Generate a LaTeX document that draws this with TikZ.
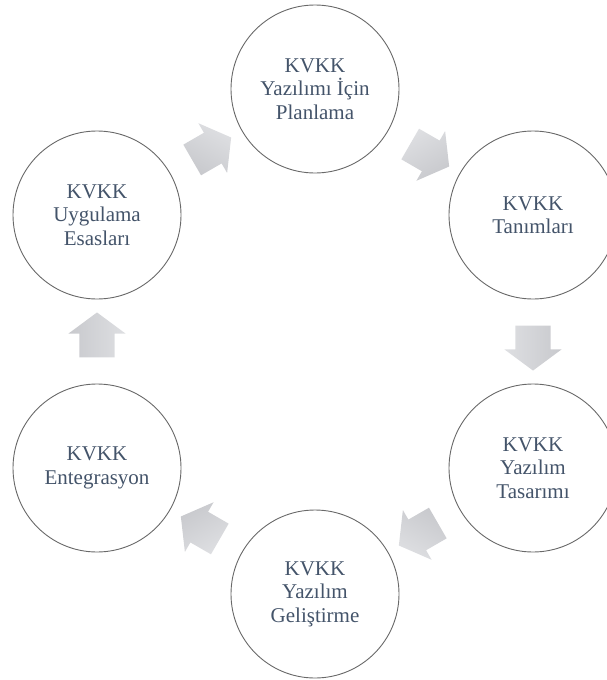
\documentclass[tikz,border=0pt]{standalone}
\usepackage{fontspec}
\setmainfont{Liberation Serif}
\usetikzlibrary{shapes.arrows, calc}
\definecolor{kvkk-text}{RGB}{68,84,106}
\definecolor{kvkk-line}{RGB}{105,105,105}
\definecolor{arrow-top}{RGB}{222,223,226}
\definecolor{arrow-bot}{RGB}{200,201,205}

\begin{document}
\begin{tikzpicture}
    [x=1pt, y=-1pt,
    phase/.style = {circle, draw=kvkk-line, line width=0.9pt, fill=white, align=center,
            minimum size=168pt, inner sep=0pt, text=kvkk-text,
            font=\fontsize{21}{23.5}\selectfont},
    flow/.style = {single arrow, draw=none, minimum height=45pt,
            inner xsep=0pt, inner ysep=17.5pt, single arrow head extend=11pt,
            single arrow tip angle=107, single arrow head indent=0pt,
            top color=arrow-top, bottom color=arrow-bot,
            rotate=#1, shading angle={-(#1)}},
    ]
    \clip (0, 0) rectangle (607, 680);
    
    
	\node[phase] (plan) at (315, 89) {KVKK\\Yazılımı İçin\\Planlama};
	\node[phase] (tanim) at (533, 215) {KVKK\\Tanımları};
	\node[phase] (tasarim) at (533, 468) {KVKK\\Yazılım\\Tasarımı};
	\node[phase] (gelistirme) at (315, 594) {KVKK\\Yazılım\\Geliştirme};
	\node[phase] (entegrasyon) at (97, 468) {KVKK\\Entegrasyon};
	\node[phase] (esaslar) at (97, 215) {KVKK\\Uygulama\\Esasları};
	
	
	\node[flow=30] (to-plan) at ($(esaslar)!0.5!(plan)$) {};
	\node[flow=-30] (to-tanim) at ($(plan)!0.5!(tanim)$) {};
	\node[flow=-90] (to-tasarim) at ($(tanim)!0.5!(tasarim)$) {};
	\node[flow=210] (to-gelistirme) at ($(tasarim)!0.5!(gelistirme)$) {};
	\node[flow=150] (to-entegrasyon) at ($(gelistirme)!0.5!(entegrasyon)$) {};
	\node[flow=90] (to-esaslar) at ($(entegrasyon)!0.5!(esaslar)$) {};
\end{tikzpicture}
\end{document}
